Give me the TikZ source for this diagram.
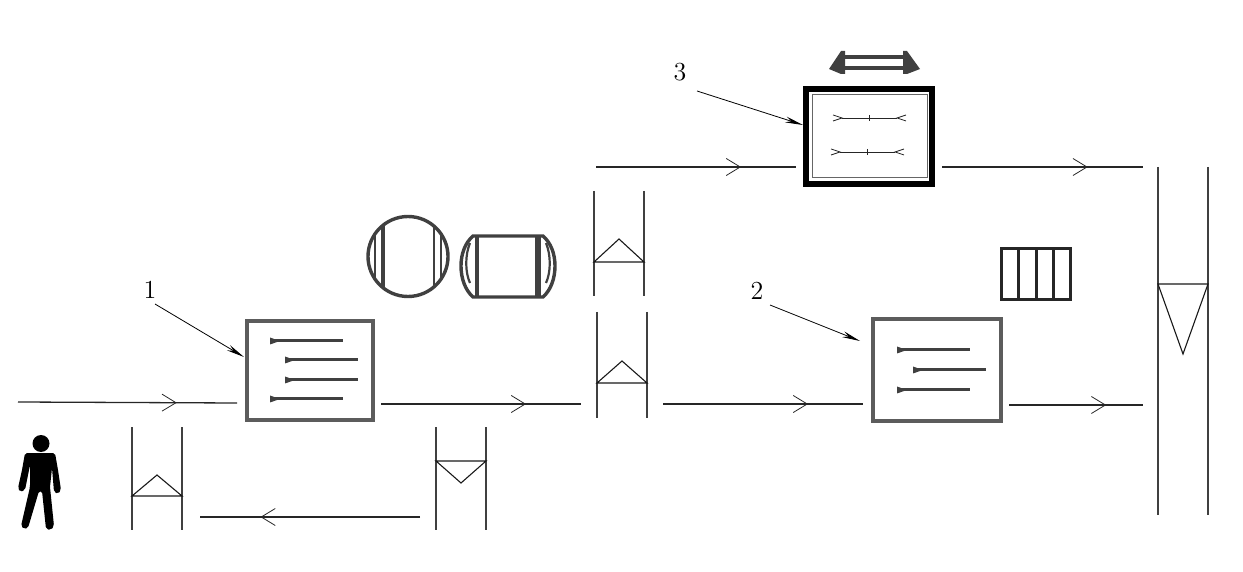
\documentclass[tikz,border=0pt]{standalone}
\usetikzlibrary{arrows.meta,decorations.markings}
\definecolor{inkgray}{gray}{0.25}
\tikzset{
    flowline/.style={line width=0.65pt,color=black!85,decoration={markings,
        mark=at position 0.725 with {\arrow{Straight Barb[length=7pt,width=8.5pt,line width=0.4pt]}}},
        postaction={decorate}},
    leader/.style={line width=0.4pt,-{Stealth[length=9pt,width=3pt]}},
    rail/.style={line width=0.7pt,color=inkgray},
    hopper/.style={line width=0.55pt,color=black!90},
    rackbox/.style={draw=inkgray!85,line width=1.7pt,inner sep=0pt,outer sep=0pt},
    numlabel/.style={font=\fontsize{13}{15}\selectfont,inner sep=0pt},
    barstem/.style={line width=1.5pt,color=black!75},
    heavy/.style={line width=1.7pt,color=inkgray},
    needle/.style={line width=0.4pt,color=black!85}
}
\newcommand{\barhead}[2]{\fill[black!75] (#1,#2-3.5) -- (#1+7,#2-1) -- (#1+7,#2+1) -- (#1,#2+3.5) -- cycle;}
\begin{document}
\begin{tikzpicture}[x=0.5pt,y=-0.5pt]
    \useasboundingbox (0,0) rectangle (1243,572);

    % boxes
    \node[rackbox,minimum width=63pt,minimum height=49.5pt] (box1) at (310,370.5) {};
    \node[rackbox,minimum width=64pt,minimum height=51pt] (box2) at (937,370) {};
    \node[draw=black,line width=2.9pt,inner sep=0pt,outer sep=0pt,minimum width=63pt,minimum height=47.5pt] (box3) at (869,136.5) {};
    \node[draw=black!60,line width=0.4pt,inner sep=0pt,minimum width=57.5pt,minimum height=41.5pt] (box3in) at (869.5,136) {};

    % labels
    \node[numlabel] (lab1) at (150,290) {1};
    \node[numlabel] (lab2) at (757,291) {2};
    \node[numlabel] (lab3) at (680,72) {3};
    \coordinate (hit1) at (244,357);
    \coordinate (hit2) at (860,341);
    \coordinate (hit3) at (803,125);
    \draw[leader] (155,304) -- (hit1);
    \draw[leader] (770,305) -- (hit2);
    \draw[leader] (697,91) -- (hit3);

    % flow lines
    \coordinate (a1) at (18,402);    \coordinate (a2) at (237,403);
    \coordinate (b1) at (381,404);   \coordinate (b2) at (581,404);
    \coordinate (c1) at (663,404);   \coordinate (c2) at (863,404);
    \coordinate (d1) at (1009,405);  \coordinate (d2) at (1143,405);
    \coordinate (e1) at (420,517);   \coordinate (e2) at (200,517);
    \coordinate (f1) at (596,167);   \coordinate (f2) at (796,167);
    \coordinate (g1) at (942,167);   \coordinate (g2) at (1143,167);
    \foreach \s/\t in {a1/a2,b1/b2,c1/c2,d1/d2,e1/e2,f1/f2,g1/g2}
        \draw[flowline] (\s) -- (\t);

    % storage marks: left x, right x, top, bottom, base y, apex y
    \foreach \xa/\xb/\ya/\yb/\yc/\yd in {132/182/427/530/496/475,
                                         436/486/427/530/461/483,
                                         594/644/191/296/262/239,
                                         597/647/312/418/383/361,
                                         1158/1208/167/515/284/354} {
        \draw[rail] (\xa,\ya) -- (\xa,\yb);
        \draw[rail] (\xb,\ya) -- (\xb,\yb);
        \draw[hopper] (\xa,\yc) -- (\xb,\yc) -- ({(\xa+\xb)/2},\yd) -- cycle;
    }

    % bars in box 1
    \foreach \bx/\by in {270/341,285/360,285/380,270/399} {
        \draw[barstem] (\bx,\by) -- (\bx+73,\by);
        \barhead{\bx}{\by}
    }
    % bars in box 2
    \foreach \bx/\by in {897/350,913/370,897/390} {
        \draw[barstem] (\bx,\by) -- (\bx+73,\by);
        \barhead{\bx}{\by}
    }
    % needles in box 3
    \foreach \bx/\by in {833/118,831/152} {
        \draw[needle] (\bx+9,\by) -- (\bx+64,\by);
        \draw[needle] (\bx,\by-3) -- (\bx+9,\by) -- (\bx,\by+3);
        \draw[needle] (\bx+73,\by-3) -- (\bx+64,\by) -- (\bx+73,\by+3);
        \draw[needle] (\bx+36,\by-3) -- (\bx+36,\by+3);
    }

    % round coil
    \draw[heavy] (408,256.5) circle (40);
    \draw[heavy,line width=2pt] (383,226) -- (383,287);
    \draw[heavy,line width=1.4pt] (434,226) -- (434,287);
    \draw[heavy,line width=1.2pt] (375,236) -- (375,277);
    \draw[heavy,line width=1.2pt] (441,236) -- (441,277);

    % coil on its side
    \draw[heavy] (473,236) -- (543,236) .. controls (551,243) and (555,254) .. (555,266)
        .. controls (555,278) and (551,290) .. (543,297) -- (473,297)
        .. controls (465,290) and (461,278) .. (461,266) .. controls (461,254) and (465,243) .. (473,236) -- cycle;
    \draw[heavy,line width=2.2pt] (477,236) -- (477,297);
    \draw[heavy,line width=2.6pt] (538,236) -- (538,297);
    \draw[heavy,line width=1.1pt] (470,243) .. controls (465,255) and (465,272) .. (470,283);
    \draw[heavy,line width=1.1pt] (546,243) .. controls (551,255) and (551,272) .. (546,283);

    % slab stack
    \draw[line width=1.5pt,color=black!85] (1001.5,248.5) rectangle (1070.5,300);
    \foreach \gx in {1018,1036,1053}
        \draw[line width=1.5pt,color=black!85] (\gx,248.5) -- (\gx,300);

    % beam on top of box 3
    \draw[heavy,line width=2.2pt] (841,57) -- (907,57);
    \draw[heavy,line width=2.2pt] (841,68) -- (907,68);
    \fill[inkgray] (841,51) -- (829,69) -- (841,74) -- (845,74) -- (845,51) -- cycle;
    \fill[inkgray] (907,51) -- (920,69) -- (907,74) -- (903,74) -- (903,51) -- cycle;

    % person
    \fill[black] (41,443.5) circle (8.5);
    \fill[black,rounded corners=1pt] (25,453) -- (55,453) -- (58,470) -- (61,490) -- (58,494) -- (54,492)
        -- (52,468) -- (50,487) -- (54,526) -- (51,530) -- (46,529) -- (42,491) -- (39,491)
        -- (28,528) -- (24,529) -- (21,526) -- (30,487) -- (30,465) -- (25,490) -- (20,492) -- (18,488) -- (22,470) -- cycle;
\end{tikzpicture}
\end{document}
